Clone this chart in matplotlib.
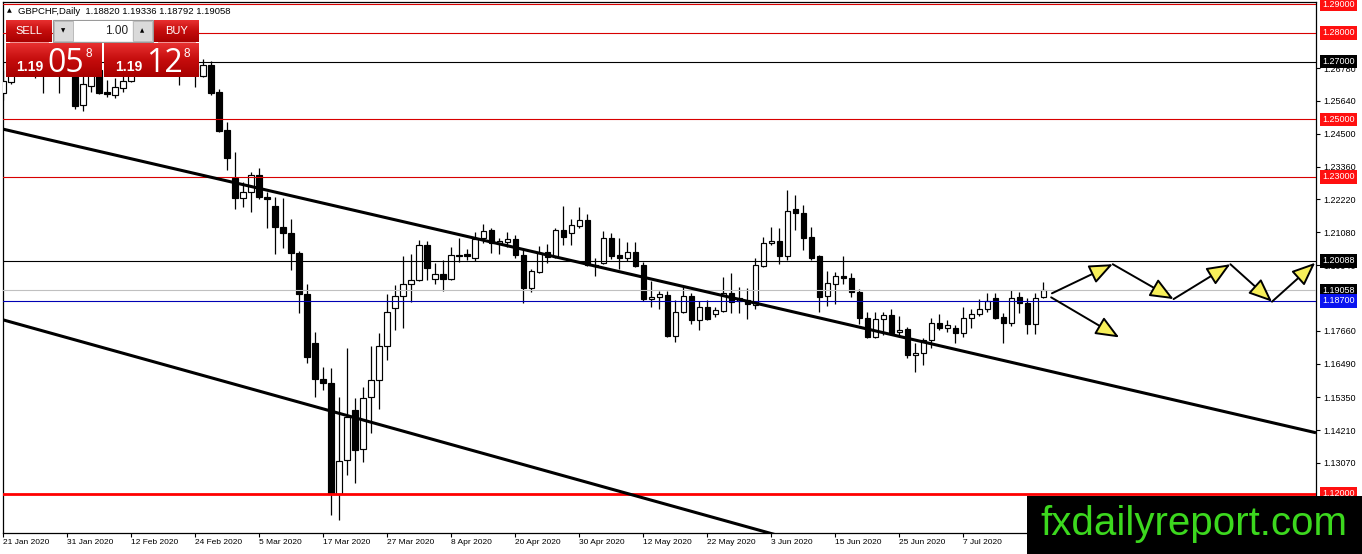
import matplotlib
matplotlib.use("Agg")
import matplotlib.pyplot as plt
import numpy as np
from matplotlib.colors import LinearSegmentedColormap
from matplotlib.patches import FancyArrowPatch, Rectangle

# GBPCHF daily candles from 21 Jan 2020 (the first ones sit behind the trade panel)
opens = [1.2591, 1.2629, 1.2675, 1.2700, 1.2730, 1.2690, 1.2668, 1.2695, 1.2670, 1.2700,
         1.2550, 1.2615, 1.2670, 1.2595, 1.2584, 1.2609, 1.2633, 1.2665, 1.2690, 1.2705,
         1.2685, 1.2700, 1.2695, 1.2680, 1.2690, 1.2650, 1.2688, 1.2595, 1.2463, 1.2296,
         1.2227, 1.2248, 1.2307, 1.2230, 1.2199, 1.2126, 1.2105, 1.2036, 1.1894, 1.1724,
         1.1599, 1.1585, 1.1200, 1.1318, 1.1491, 1.1356, 1.1536, 1.1595, 1.1713, 1.1845,
         1.1887, 1.1928, 1.1942, 1.2064, 1.1946, 1.1963, 1.1946, 1.2029, 1.2033, 1.2019,
         1.2088, 1.2116, 1.2071, 1.2074, 1.2085, 1.2029, 1.1915, 1.1970, 1.2039, 1.2022,
         1.2116, 1.2105, 1.2130, 1.2151, 1.1994, 1.2001, 1.2088, 1.2029, 1.2019, 1.2039,
         1.1994, 1.1876, 1.1883, 1.1890, 1.1748, 1.1831, 1.1887, 1.1804, 1.1849, 1.1824,
         1.1835, 1.1897, 1.1869, 1.1873, 1.1856, 1.1991, 1.2071, 1.2078, 1.2026, 1.2189,
         1.2175, 1.2092, 1.2026, 1.1887, 1.1928, 1.1956, 1.1949, 1.1901, 1.1810, 1.1745,
         1.1807, 1.1821, 1.1762, 1.1772, 1.1682, 1.1689, 1.1734, 1.1793, 1.1776, 1.1776,
         1.1758, 1.1810, 1.1824, 1.1842, 1.1880, 1.1814, 1.1793, 1.1883, 1.1862, 1.1790,
         1.18820]
highs = [1.2671, 1.2692, 1.2720, 1.2745, 1.2750, 1.2712, 1.2705, 1.2720, 1.2710, 1.2715,
         1.2660, 1.2680, 1.2690, 1.2636, 1.2643, 1.2660, 1.2685, 1.2700, 1.2720, 1.2730,
         1.2715, 1.2725, 1.2720, 1.2710, 1.2715, 1.2709, 1.2702, 1.2605, 1.2491, 1.2386,
         1.2282, 1.2317, 1.2331, 1.2248, 1.2230, 1.2227, 1.2154, 1.2043, 1.1928, 1.1762,
         1.1640, 1.1637, 1.1536, 1.1706, 1.1533, 1.1571, 1.1713, 1.1758, 1.1894, 1.1925,
         1.2026, 1.2033, 1.2081, 1.2078, 1.2001, 1.2012, 1.2057, 1.2088, 1.2050, 1.2109,
         1.2137, 1.2123, 1.2088, 1.2109, 1.2098, 1.2046, 1.1980, 1.2060, 1.2067, 1.2123,
         1.2199, 1.2154, 1.2196, 1.2171, 1.2019, 1.2112, 1.2105, 1.2088, 1.2074, 1.2074,
         1.2005, 1.1939, 1.1904, 1.1904, 1.1873, 1.1921, 1.1897, 1.1869, 1.1873, 1.1849,
         1.1953, 1.1967, 1.1918, 1.1915, 1.2019, 1.2092, 1.2126, 1.2123, 1.2255, 1.2237,
         1.2203, 1.2126, 1.2029, 1.1974, 1.1970, 1.2026, 1.1967, 1.1911, 1.1831, 1.1831,
         1.1831, 1.1842, 1.1817, 1.1779, 1.1724, 1.1741, 1.1810, 1.1824, 1.1804, 1.1786,
         1.1849, 1.1842, 1.1876, 1.1897, 1.1897, 1.1828, 1.1908, 1.1901, 1.1880, 1.1897,
         1.19336]
lows = [1.2567, 1.2622, 1.2660, 1.2680, 1.2643, 1.2591, 1.2655, 1.2591, 1.2660, 1.2536,
        1.2529, 1.2595, 1.2588, 1.2577, 1.2574, 1.2595, 1.2630, 1.2660, 1.2670, 1.2675,
        1.2665, 1.2680, 1.2619, 1.2662, 1.2612, 1.2647, 1.2584, 1.2456, 1.2324, 1.2189,
        1.2196, 1.2178, 1.2223, 1.2123, 1.2033, 1.2053, 1.1977, 1.1828, 1.1654, 1.1536,
        1.1561, 1.1127, 1.1110, 1.1266, 1.1238, 1.1311, 1.1411, 1.1495, 1.1665, 1.1769,
        1.1776, 1.1866, 1.1939, 1.1942, 1.1928, 1.1904, 1.1942, 1.2005, 1.2012, 1.2008,
        1.2071, 1.2036, 1.2033, 1.2057, 1.2019, 1.1862, 1.1901, 1.1967, 1.2001, 1.2019,
        1.2064, 1.2064, 1.2123, 1.1991, 1.1956, 1.1998, 1.2015, 1.1980, 1.2008, 1.1987,
        1.1869, 1.1849, 1.1842, 1.1745, 1.1727, 1.1828, 1.1790, 1.1769, 1.1804, 1.1814,
        1.1831, 1.1828, 1.1828, 1.1807, 1.1842, 1.1987, 1.2064, 1.1998, 1.2012, 1.2116,
        1.2046, 1.2012, 1.1831, 1.1852, 1.1859, 1.1928, 1.1883, 1.1790, 1.1741, 1.1741,
        1.1751, 1.1751, 1.1748, 1.1672, 1.1623, 1.1647, 1.1706, 1.1769, 1.1762, 1.1724,
        1.1745, 1.1776, 1.1817, 1.1831, 1.1807, 1.1724, 1.1783, 1.1828, 1.1755, 1.1755,
        1.18792]
closes = [1.2633, 1.2671, 1.2700, 1.2730, 1.2690, 1.2668, 1.2695, 1.2670, 1.2700, 1.2546,
          1.2622, 1.2665, 1.2591, 1.2588, 1.2612, 1.2633, 1.2665, 1.2690, 1.2705, 1.2685,
          1.2700, 1.2695, 1.2680, 1.2690, 1.2675, 1.2688, 1.2591, 1.2459, 1.2366, 1.2227,
          1.2248, 1.2307, 1.2230, 1.2223, 1.2126, 1.2105, 1.2036, 1.1894, 1.1675, 1.1599,
          1.1585, 1.1200, 1.1314, 1.1467, 1.1352, 1.1533, 1.1595, 1.1713, 1.1831, 1.1887,
          1.1928, 1.1942, 1.2064, 1.1984, 1.1963, 1.1946, 1.2029, 1.2026, 1.2026, 1.2085,
          1.2112, 1.2071, 1.2078, 1.2085, 1.2029, 1.1915, 1.1974, 1.2036, 1.2022, 1.2116,
          1.2093, 1.2133, 1.2151, 1.1994, 1.1991, 1.2088, 1.2026, 1.2019, 1.2039, 1.1991,
          1.1876, 1.1883, 1.1894, 1.1748, 1.1831, 1.1887, 1.1804, 1.1849, 1.1807, 1.1838,
          1.1897, 1.1866, 1.1880, 1.1859, 1.1994, 1.2071, 1.2078, 1.2026, 1.2182, 1.2175,
          1.2088, 1.2019, 1.1883, 1.1932, 1.1956, 1.1949, 1.1901, 1.1810, 1.1745, 1.1807,
          1.1821, 1.1758, 1.1769, 1.1682, 1.1689, 1.1734, 1.1793, 1.1776, 1.1786, 1.1758,
          1.1810, 1.1824, 1.1842, 1.1869, 1.1810, 1.1793, 1.1880, 1.1862, 1.1790, 1.1880,
          1.19058]

date_ticks = [0, 8, 16, 24, 32, 40, 48, 56, 64, 72, 80, 88, 96, 104, 112, 120]
date_labels = ["21 Jan 2020", "31 Jan 2020", "12 Feb 2020", "24 Feb 2020", "5 Mar 2020",
               "17 Mar 2020", "27 Mar 2020", "8 Apr 2020", "20 Apr 2020", "30 Apr 2020",
               "12 May 2020", "22 May 2020", "3 Jun 2020", "15 Jun 2020", "25 Jun 2020",
               "7 Jul 2020"]

price_ticks = [1.2678, 1.2564, 1.2450, 1.2336, 1.2222, 1.2108, 1.1994,
               1.1766, 1.1652, 1.1535, 1.1421, 1.1307]
price_labels = ["1.26780", "1.25640", "1.24500", "1.23360", "1.22220", "1.21080", "1.19940",
                "1.17660", "1.16490", "1.15350", "1.14210", "1.13070"]

# horizontal levels
level_prices = [1.29, 1.28, 1.27, 1.25, 1.23, 1.20088, 1.19058, 1.187, 1.12]
level_colors = ["#d80000", "#d80000", "black", "#d80000", "#d80000", "black", "#c0c0c0",
                "#0000b4", "#ff0000"]
level_widths = [0.8, 0.8, 0.8, 0.8, 0.8, 0.8, 0.8, 0.8, 2.0]
level_boxes = ["#ff1010", "#ff1010", "black", "#ff1010", "#ff1010", "black", "black",
               "#0a14f0", "#ff1010"]

# trend lines (two anchor points each, drawn as rays)
upper_x = [0, 130]
upper_y = [1.2466, 1.1631]
lower_x = [0, 95]
lower_y = [1.1804, 1.1070]

# projected path arrows
zig_x = [131.1, 138.7, 146.3, 153.4, 158.6, 164.0]
zig_y = [1.1896, 1.1997, 1.1876, 1.1997, 1.1867, 1.2002]
down_x = [131.0, 139.5]
down_y = [1.1882, 1.1743]

W, H = 1362, 554
plt.rcParams["font.family"] = ["Liberation Sans", "DejaVu Sans"]

fig = plt.figure(figsize=(W / 100, H / 100), dpi=100)
fig.patch.set_facecolor("white")
ax = fig.add_axes([2.5 / W, 1 - 533 / H, (1316 - 2.5) / W, (533 - 1.5) / H])
XMIN, XMAX = -0.06, 164.1
ax.set_xlim(XMIN, XMAX)
ax.set_ylim(1.1064, 1.2909)

# levels
for p, c, lw in zip(level_prices, level_colors, level_widths):
    ax.axhline(p, color=c, lw=lw, zorder=4)

# candles
o = np.array(opens); h = np.array(highs); l = np.array(lows); c = np.array(closes)
k = np.arange(len(o))
ax.vlines(k, l, h, color="black", lw=0.9, zorder=2)
bottom = np.minimum(o, c)
height = np.maximum(np.abs(c - o), 0.00025)
fill = ["white" if cc >= oo else "black" for oo, cc in zip(o, c)]
ax.bar(k, height, 0.64, bottom=bottom, color=fill, edgecolor="black", linewidth=0.85, zorder=3)

# trend lines
for xs, ys in ((upper_x, upper_y), (lower_x, lower_y)):
    slope = (ys[1] - ys[0]) / (xs[1] - xs[0])
    ax.plot([xs[0], XMAX], [ys[0], ys[0] + slope * (XMAX - xs[0])],
            color="black", lw=2.2, solid_capstyle="butt", zorder=5)

# arrows
yellow = "#f7ef5a"
segs = list(zip(zip(zig_x[:-1], zig_y[:-1]), zip(zig_x[1:], zig_y[1:])))
segs.append(((down_x[0], down_y[0]), (down_x[1], down_y[1])))
for a, b in segs:
    ar = FancyArrowPatch(a, b, arrowstyle="-|>,head_length=1.2,head_width=0.5",
                         mutation_scale=12, lw=1.4, fc=yellow, ec="black",
                         shrinkA=0, shrinkB=0, clip_on=False, zorder=6)
    ax.add_patch(ar)

# axes styling
for s in ax.spines.values():
    s.set_linewidth(0.9)
    s.set_color("black")
ax.yaxis.tick_right()
ax.set_yticks(price_ticks, price_labels)
ax.tick_params(axis="y", direction="out", length=3, width=0.8, labelsize=6.5, pad=2)
ax.set_xticks(date_ticks, date_labels)
ax.tick_params(axis="x", direction="out", length=3, width=0.8, labelsize=6, pad=1.5)
for t in ax.get_xticklabels():
    t.set_horizontalalignment("left")

# price boxes on the right scale
for p, bc in zip(level_prices, level_boxes):
    ax.text(1.0047, p, f"{p:.5f}", transform=ax.get_yaxis_transform(), color="white",
            fontsize=6.5, va="center", ha="left", clip_on=False, zorder=10,
            bbox=dict(boxstyle="square,pad=0.25", fc=bc, ec="none"))

# overlay in pixel coordinates for the trade panel and the watermark
ov = fig.add_axes([0, 0, 1, 1])
ov.set_zorder(10)
ov.axis("off")
red_cm = LinearSegmentedColormap.from_list("redpanel", ["#e83030", "#c40c0c", "#a80000"])
grad = np.linspace(0, 1, 64)[:, None]


def red_box(x0, y0, x1, y1):
    ov.imshow(grad, extent=(x0, x1, y1, y0), cmap=red_cm, aspect="auto",
              origin="upper", interpolation="bilinear", zorder=2)


ov.text(7, 11, "▲", fontsize=4.5, va="center", ha="left", family=["DejaVu Sans"])
ov.text(18, 11, "GBPCHF,Daily  1.18820 1.19336 1.18792 1.19058", fontsize=6.8,
        va="center", ha="left", color="black")

red_box(6, 20, 52, 42)
ov.text(29, 31.5, "SELL", color="white", fontsize=8, ha="center", va="center")
ov.add_patch(Rectangle((53, 20), 100, 22, fc="#f2f2f2", ec="#9a9a9a", lw=0.8, zorder=2))
ov.add_patch(Rectangle((54, 21), 19, 20, fc="#dadada", ec="#b4b4b4", lw=0.6, zorder=3))
ov.add_patch(Rectangle((74, 21), 58, 20, fc="white", ec="none", zorder=3))
ov.add_patch(Rectangle((133, 21), 19, 20, fc="#dadada", ec="#b4b4b4", lw=0.6, zorder=3))
ov.text(63.5, 31, "▼", fontsize=4, ha="center", va="center", family=["DejaVu Sans"], zorder=4)
ov.text(142.5, 31, "▲", fontsize=4, ha="center", va="center", family=["DejaVu Sans"], zorder=4)
ov.text(128, 31.5, "1.00", fontsize=8.5, ha="right", va="center", color="#222222", zorder=4)
red_box(154, 20, 199, 42)
ov.text(176.5, 31.5, "BUY", color="white", fontsize=8, ha="center", va="center")
ov.plot([10, 48], [42, 42], color="#f08080", lw=0.6, zorder=3)
ov.plot([158, 195], [42, 42], color="#f08080", lw=0.6, zorder=3)

red_box(6, 43, 102, 77)
red_box(104, 43, 199, 77)
for x_small, x_big, x_sup, big in ((43, 47, 85, "05"), (142, 146, 183, "12")):
    ov.text(x_small, 71, "1.19", color="white", fontsize=10, fontweight="bold",
            ha="right", va="baseline", zorder=4)
    ov.text(x_big, 72, big, color="white", fontsize=23, ha="left", va="baseline",
            family=["Open Sans", "DejaVu Sans"], zorder=4)
    ov.text(x_sup + 1, 57, "8", color="white", fontsize=8.5, ha="left", va="baseline", zorder=4)

ov.add_patch(Rectangle((1027, 496), W - 1027, H - 496, fc="black", ec="none", zorder=5))
ov.text(1194, 535, "fxdailyreport.com", color="#3cd81e", fontsize=29, ha="center",
        va="baseline", zorder=6)

ov.set_xlim(0, W)
ov.set_ylim(H, 0)

fig.savefig("out.png", dpi=100)
